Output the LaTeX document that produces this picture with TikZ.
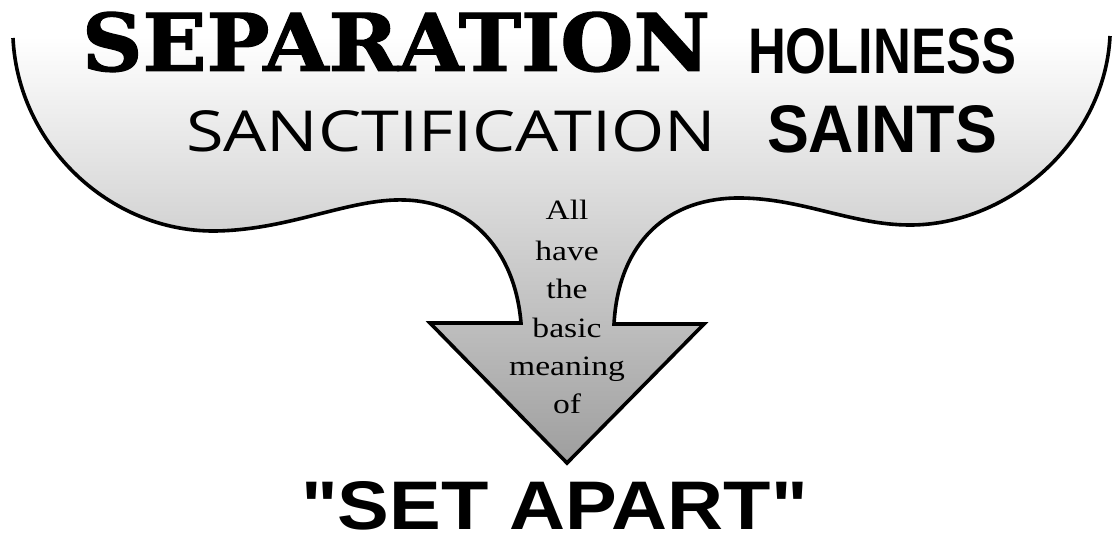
\documentclass[tikz,border=0pt]{standalone}
\usepackage{fontspec}
\usepackage{graphicx}
\setmainfont{Liberation Serif}
\newfontfamily\sepfont[FakeBold=1.5]{DejaVu Serif}
\newfontfamily\holfont{Liberation Sans}
\newfontfamily\sanfont{Open Sans}
\newfontfamily\setfont{Liberation Sans}
\def\myfunnel{(13,-38) .. controls (18,-145) and (110,-232) .. (215,-231)
  .. controls (290,-230) and (350,-198) .. (405,-200)
  .. controls (470,-202) and (515,-250) .. (521,-323)
  -- (430,-323) -- (567,-463) -- (704,-324) -- (614,-324)
  .. controls (618,-250) and (660,-200) .. (735,-198)
  .. controls (800,-197) and (850,-225) .. (910,-225)
  .. controls (1010,-225) and (1105,-140) .. (1110,-36)}
\begin{document}
\begin{tikzpicture}[x=1pt,y=1pt,
  word/.style={inner sep=0pt, outer sep=0pt, anchor=south west},
  mean/.style={inner sep=0pt, outer sep=0pt, anchor=base, font=\fontsize{28}{30}\selectfont}]
\useasboundingbox (0,0) rectangle (1115,-539);
\shade[top color=white, bottom color=black!38] \myfunnel -- cycle;
\draw[line width=3.6pt, line join=miter] \myfunnel;
\node[word] (sep) at (82,-72) {\resizebox{628pt}{59pt}{\sepfont\bfseries SEPARATION}};
\node[word] (hol) at (748,-74) {\resizebox{268pt}{45pt}{\holfont\bfseries HOLINESS}};
\node[word] (san) at (186,-152) {\resizebox{530pt}{41pt}{\sanfont SANCTIFICATION}};
\node[word] (sai) at (767,-153) {\resizebox{230pt}{47pt}{\holfont\bfseries SAINTS}};
\node[word] (set) at (301,-530) {\resizebox{507pt}{48pt}{\setfont\bfseries "SET APART"}};
\node[mean] (l1) at (567,-219) {\scalebox{1.2}[1]{All}};
\node[mean] (l2) at (567,-260) {\scalebox{1.2}[1]{have}};
\node[mean] (l3) at (567,-298) {\scalebox{1.2}[1]{the}};
\node[mean] (l4) at (567,-337) {\scalebox{1.2}[1]{basic}};
\node[mean] (l5) at (567,-375) {\scalebox{1.2}[1]{meaning}};
\node[mean] (l6) at (567,-413) {\scalebox{1.2}[1]{of}};
\end{tikzpicture}
\end{document}
